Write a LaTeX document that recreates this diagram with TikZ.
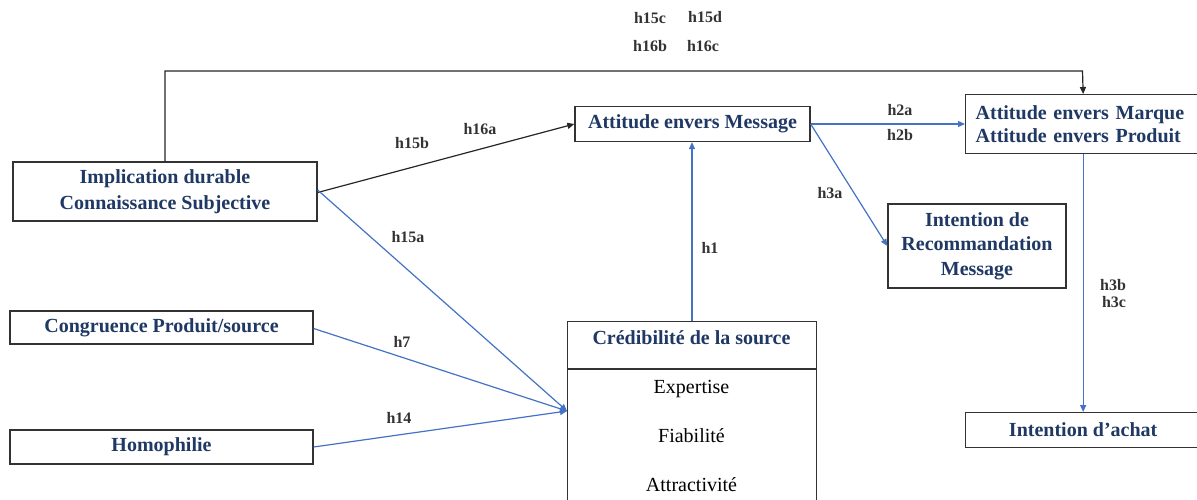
\documentclass[tikz,border=0pt]{standalone}
\usepackage{fontspec}
\setmainfont{Liberation Serif}
\usetikzlibrary{arrows.meta}
\definecolor{navy}{HTML}{1F3864}
\definecolor{ablue}{HTML}{4472C4}
\definecolor{lblgray}{HTML}{333333}
\begin{document}
\begin{tikzpicture}[x=1pt,y=-1pt,
  box/.style={draw=black!80, line width=1.3pt, inner sep=0pt, text=navy, align=center,
    font=\fontsize{20}{26}\selectfont\bfseries},
  plainbox/.style={draw=black!80, line width=1.3pt, inner sep=0pt},
  item/.style={font=\fontsize{20}{24}\selectfont, text=black, inner sep=0pt},
  lbl/.style={font=\fontsize{16}{18}\selectfont\bfseries, text=lblgray, inner sep=0pt},
  barrow/.style={draw=ablue, line width=1.2pt, -{Triangle[length=7pt,width=6pt]}},
  karrow/.style={draw=black!85, line width=1.2pt, -{Triangle[length=7pt,width=6pt]}}]
\useasboundingbox (0,0) rectangle (1197,499);
\clip (0,0) rectangle (1197,499);
\fill[white] (0,0) rectangle (1197,499);

% nodes
\node[box, minimum width=304pt, minimum height=59pt] (impl) at (165,191.5)
  {Implication durable\\Connaissance Subjective};
\node[box, minimum width=235pt, minimum height=35pt] (msg) at (692.5,124)
  {Attitude envers Message};
\node[box, anchor=north west, minimum width=235pt, minimum height=59pt,
  text width=215pt, align=left, font=\fontsize{20}{23}\selectfont\bfseries] (marque) at (965,94)
  {Attitude envers Marque\\Attitude envers Produit};
\node[box, minimum width=178pt, minimum height=84pt, font=\fontsize{20}{24.5}\selectfont\bfseries] (rec) at (977,246)
  {Intention de\\Recommandation\\Message};
\node[box, minimum width=303pt, minimum height=33pt] (congr) at (161.5,327.5)
  {Congruence Produit/source};
\node[box, minimum width=303pt, minimum height=34pt] (homo) at (161.5,447)
  {Homophilie};
\node[box, anchor=north west, minimum width=235pt, minimum height=35pt] (achat) at (965,412)
  {Intention d’achat};
\node[plainbox, anchor=north west, minimum width=249pt, minimum height=47pt] (cred) at (567,320.5) {};
\node[text=navy, font=\fontsize{20}{24}\selectfont\bfseries, inner sep=0pt] (credt) at (691.5,338)
  {Crédibilité de la source};
\node[plainbox, anchor=north, minimum width=249pt, minimum height=150pt] (credbody) at (cred.south) {};
\node[item] (exp) at (691.5,389) {Expertise};
\node[item] (fia) at (691.5,436) {Fiabilité};
\node[item] (attr) at (691.5,485) {Attractivité};

\coordinate (conv) at (567,411);
\coordinate (topc) at (1082.5,71);

% connectors
\draw[karrow] (impl.north) |- (topc) -- (marque.north);
\draw[karrow] ([yshift=-1pt]impl.east) -- (msg.west);
\draw[barrow] ([yshift=1.5pt]impl.east) -- (conv);
\draw[barrow] ([yshift=-1pt]congr.east) -- (conv);
\draw[barrow] (homo.east) -- (conv);
\draw[barrow] (cred.north -| 692,0) -- (msg.south -| 692,0);
\draw[barrow] (msg.east) -- (marque.west |- msg.east);
\draw[barrow] (msg.east) -- (rec.west);
\draw[barrow] (marque.south) -- (achat.north);

% labels
\node[lbl] (l15c) at (650,18) {h15c};
\node[lbl] (l15d) at (705,17) {h15d};
\node[lbl] (l16b) at (650,46) {h16b};
\node[lbl] (l16c) at (703,46) {h16c};
\node[lbl] (l15b) at (412,143) {h15b};
\node[lbl] (l16a) at (480,129) {h16a};
\node[lbl] (l15a) at (408,237) {h15a};
\node[lbl] (l7) at (402,342) {h7};
\node[lbl] (l14) at (399,418) {h14};
\node[lbl] (l1) at (710,248) {h1};
\node[lbl] (l2a) at (900,110) {h2a};
\node[lbl] (l2b) at (900,135) {h2b};
\node[lbl] (l3a) at (830,193) {h3a};
\node[lbl] (l3b) at (1113,285) {h3b};
\node[lbl] (l3c) at (1114,302) {h3c};
\end{tikzpicture}
\end{document}
